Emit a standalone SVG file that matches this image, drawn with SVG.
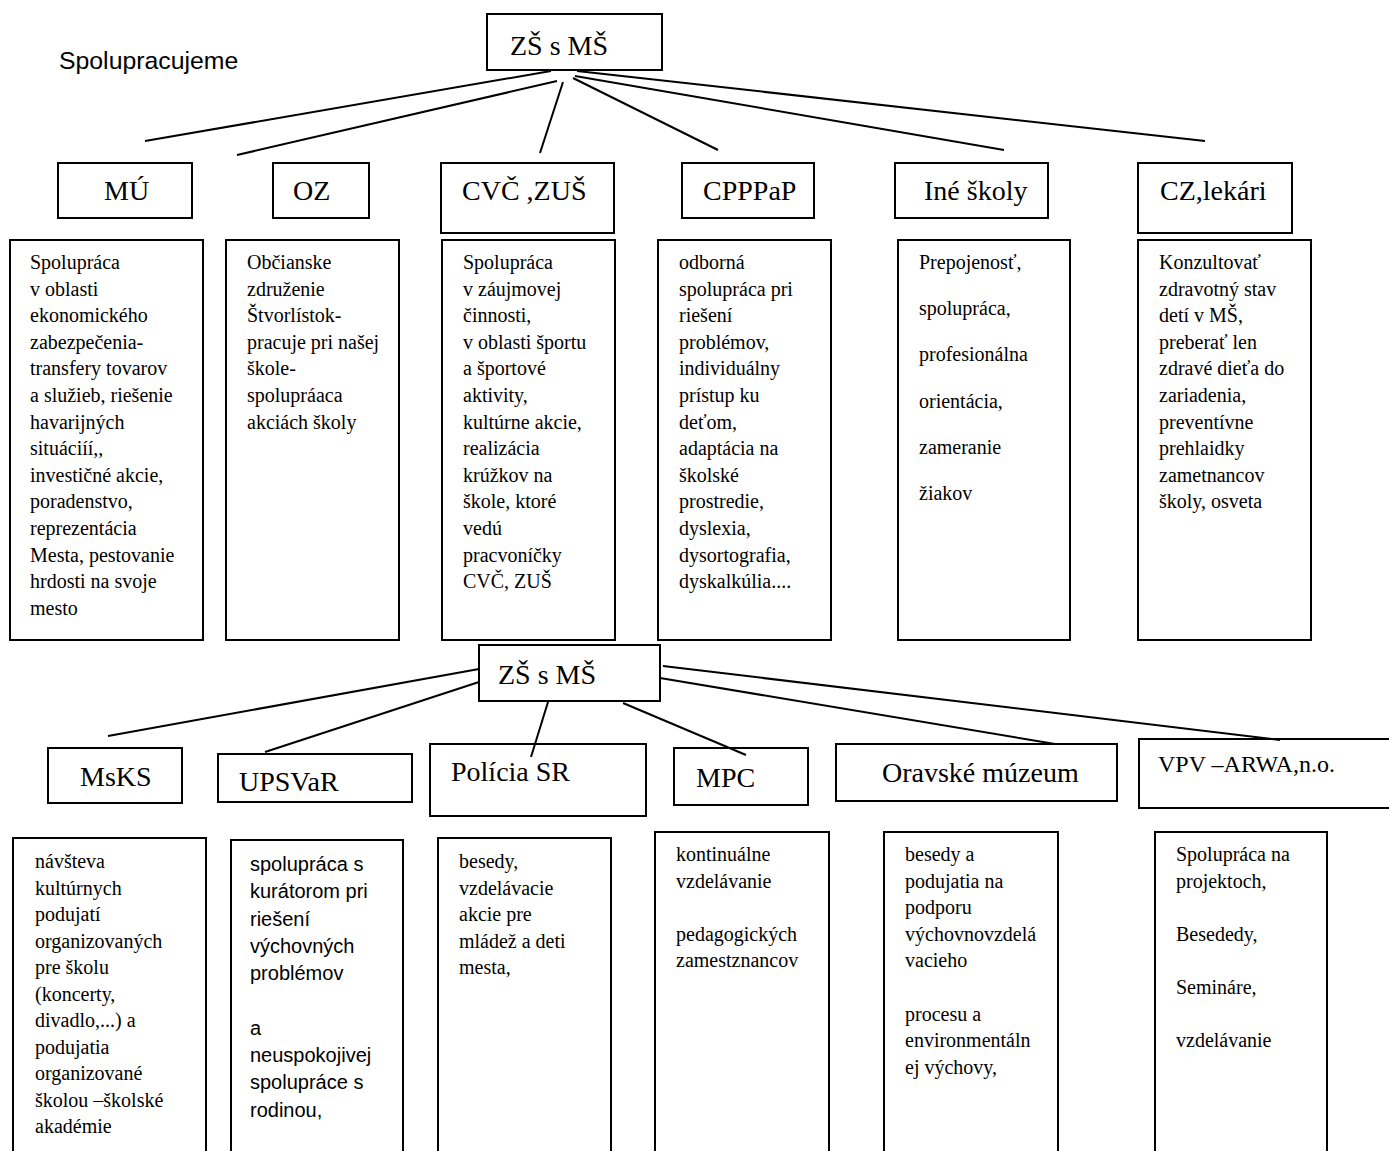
<svg xmlns="http://www.w3.org/2000/svg" width="1389" height="1151" viewBox="0 0 1389 1151">
<style>
.bx{fill:#fff;stroke:#000;stroke-width:2}
.ln{stroke:#000;stroke-width:2;fill:none}
.h{font-family:"Liberation Serif","Times New Roman",serif;font-size:28px;fill:#000}
.d{font-family:"Liberation Serif","Times New Roman",serif;font-size:20px;fill:#000}
.s{font-family:"Liberation Sans",Arial,sans-serif;font-size:20px;fill:#000}
</style>
<rect width="1389" height="1151" fill="#fff"/>
<text x="59" y="69" class="s" style="font-size:24.8px">Spolupracujeme</text>

<g id="root1"><rect class="bx" x="487" y="14" width="175" height="56"/><text class="h" x="510" y="55">ZŠ s MŠ</text></g>

<g id="mu"><rect class="bx" x="58" y="163" width="134" height="55"/><text class="h" x="104" y="200">MÚ</text></g>
<g id="oz"><rect class="bx" x="273" y="163" width="96" height="55"/><text class="h" x="293" y="200">OZ</text></g>
<g id="cvc"><rect class="bx" x="441" y="163" width="173" height="70"/><text class="h" x="462" y="200">CVČ ,ZUŠ</text></g>
<g id="cpppap"><rect class="bx" x="682" y="163" width="132" height="55"/><text class="h" x="703" y="200">CPPPaP</text></g>
<g id="ine"><rect class="bx" x="895" y="163" width="153" height="55"/><text class="h" x="924" y="200">Iné školy</text></g>
<g id="cz"><rect class="bx" x="1138" y="163" width="154" height="70"/><text class="h" x="1160" y="200">CZ,lekári</text></g>

<g id="mu-desc"><rect class="bx" x="10" y="240" width="193" height="400"/>
<text class="d" x="30" y="269"><tspan x="30">Spolupráca</tspan><tspan x="30" dy="26.6">v oblasti</tspan><tspan x="30" dy="26.6">ekonomického</tspan><tspan x="30" dy="26.6">zabezpečenia-</tspan><tspan x="30" dy="26.6">transfery tovarov</tspan><tspan x="30" dy="26.6">a služieb, riešenie</tspan><tspan x="30" dy="26.6">havarijných</tspan><tspan x="30" dy="26.6">situáciíí,,</tspan><tspan x="30" dy="26.6">investičné akcie,</tspan><tspan x="30" dy="26.6">poradenstvo,</tspan><tspan x="30" dy="26.6">reprezentácia</tspan><tspan x="30" dy="26.6">Mesta, pestovanie</tspan><tspan x="30" dy="26.6">hrdosti na svoje</tspan><tspan x="30" dy="26.6">mesto</tspan></text></g>

<g id="oz-desc"><rect class="bx" x="226" y="240" width="173" height="400"/>
<text class="d" x="247" y="269"><tspan x="247">Občianske</tspan><tspan x="247" dy="26.6">združenie</tspan><tspan x="247" dy="26.6">Štvorlístok-</tspan><tspan x="247" dy="26.6">pracuje pri našej</tspan><tspan x="247" dy="26.6">škole-</tspan><tspan x="247" dy="26.6">spolupráaca</tspan><tspan x="247" dy="26.6">akciách školy</tspan></text></g>

<g id="cvc-desc"><rect class="bx" x="442" y="240" width="173" height="400"/>
<text class="d" x="463" y="269"><tspan x="463">Spolupráca</tspan><tspan x="463" dy="26.6">v záujmovej</tspan><tspan x="463" dy="26.6">činnosti,</tspan><tspan x="463" dy="26.6">v oblasti športu</tspan><tspan x="463" dy="26.6">a športové</tspan><tspan x="463" dy="26.6">aktivity,</tspan><tspan x="463" dy="26.6">kultúrne akcie,</tspan><tspan x="463" dy="26.6">realizácia</tspan><tspan x="463" dy="26.6">krúžkov na</tspan><tspan x="463" dy="26.6">škole, ktoré</tspan><tspan x="463" dy="26.6">vedú</tspan><tspan x="463" dy="26.6">pracvoníčky</tspan><tspan x="463" dy="26.6">CVČ, ZUŠ</tspan></text></g>

<g id="cpppap-desc"><rect class="bx" x="658" y="240" width="173" height="400"/>
<text class="d" x="679" y="269"><tspan x="679">odborná</tspan><tspan x="679" dy="26.6">spolupráca pri</tspan><tspan x="679" dy="26.6">riešení</tspan><tspan x="679" dy="26.6">problémov,</tspan><tspan x="679" dy="26.6">individuálny</tspan><tspan x="679" dy="26.6">prístup ku</tspan><tspan x="679" dy="26.6">deťom,</tspan><tspan x="679" dy="26.6">adaptácia na</tspan><tspan x="679" dy="26.6">školské</tspan><tspan x="679" dy="26.6">prostredie,</tspan><tspan x="679" dy="26.6">dyslexia,</tspan><tspan x="679" dy="26.6">dysortografia,</tspan><tspan x="679" dy="26.6">dyskalkúlia....</tspan></text></g>

<g id="ine-desc"><rect class="bx" x="898" y="240" width="172" height="400"/>
<text class="d" x="919" y="269"><tspan x="919">Prepojenosť,</tspan><tspan x="919" dy="46.2">spolupráca,</tspan><tspan x="919" dy="46.2">profesionálna</tspan><tspan x="919" dy="46.2">orientácia,</tspan><tspan x="919" dy="46.2">zameranie</tspan><tspan x="919" dy="46.2">žiakov</tspan></text></g>

<g id="cz-desc"><rect class="bx" x="1138" y="240" width="173" height="400"/>
<text class="d" x="1159" y="269"><tspan x="1159">Konzultovať</tspan><tspan x="1159" dy="26.6">zdravotný stav</tspan><tspan x="1159" dy="26.6">detí v MŠ,</tspan><tspan x="1159" dy="26.6">preberať len</tspan><tspan x="1159" dy="26.6">zdravé dieťa do</tspan><tspan x="1159" dy="26.6">zariadenia,</tspan><tspan x="1159" dy="26.6">preventívne</tspan><tspan x="1159" dy="26.6">prehlaidky</tspan><tspan x="1159" dy="26.6">zametnancov</tspan><tspan x="1159" dy="26.6">školy, osveta</tspan></text></g>

<g id="root2"><rect class="bx" x="479" y="645" width="181" height="56"/><text class="h" x="498" y="684">ZŠ s MŠ</text></g>

<g id="msks"><rect class="bx" x="48" y="748" width="134" height="55"/><text class="h" x="80" y="786">MsKS</text></g>
<g id="upsvar"><rect class="bx" x="218" y="754" width="194" height="48"/><text class="h" x="239" y="791">UPSVaR</text></g>
<g id="policia"><rect class="bx" x="430" y="744" width="216" height="72"/><text class="h" x="451" y="781">Polícia SR</text></g>
<g id="mpc"><rect class="bx" x="674" y="748" width="134" height="57"/><text class="h" x="696" y="787">MPC</text></g>
<g id="oravske"><rect class="bx" x="836" y="744" width="281" height="57"/><text class="h" x="882" y="782">Oravské múzeum</text></g>
<g id="vpv"><rect class="bx" x="1139" y="739" width="260" height="69"/><text class="h" x="1158" y="772" style="font-size:24px">VPV –ARWA,n.o.</text></g>

<g id="msks-desc"><rect class="bx" x="13" y="838" width="193" height="330"/>
<text class="d" x="35" y="868"><tspan x="35">návšteva</tspan><tspan x="35" dy="26.5">kultúrnych</tspan><tspan x="35" dy="26.5">podujatí</tspan><tspan x="35" dy="26.5">organizovaných</tspan><tspan x="35" dy="26.5">pre školu</tspan><tspan x="35" dy="26.5">(koncerty,</tspan><tspan x="35" dy="26.5">divadlo,...) a</tspan><tspan x="35" dy="26.5">podujatia</tspan><tspan x="35" dy="26.5">organizované</tspan><tspan x="35" dy="26.5">školou –školské</tspan><tspan x="35" dy="26.5">akadémie</tspan></text></g>

<g id="upsvar-desc"><rect class="bx" x="231" y="840" width="172" height="330"/>
<text class="s" x="250" y="871"><tspan x="250">spolupráca s</tspan><tspan x="250" dy="27.3">kurátorom pri</tspan><tspan x="250" dy="27.3">riešení</tspan><tspan x="250" dy="27.3">výchovných</tspan><tspan x="250" dy="27.3">problémov</tspan><tspan x="250" dy="54.6">a</tspan><tspan x="250" dy="27.3">neuspokojivej</tspan><tspan x="250" dy="27.3">spolupráce s</tspan><tspan x="250" dy="27.3">rodinou,</tspan></text></g>

<g id="policia-desc"><rect class="bx" x="438" y="838" width="173" height="330"/>
<text class="d" x="459" y="868"><tspan x="459">besedy,</tspan><tspan x="459" dy="26.5">vzdelávacie</tspan><tspan x="459" dy="26.5">akcie pre</tspan><tspan x="459" dy="26.5">mládež a deti</tspan><tspan x="459" dy="26.5">mesta,</tspan></text></g>

<g id="mpc-desc"><rect class="bx" x="655" y="832" width="174" height="330"/>
<text class="d" x="676" y="861"><tspan x="676">kontinuálne</tspan><tspan x="676" dy="26.6">vzdelávanie</tspan><tspan x="676" dy="53.2">pedagogických</tspan><tspan x="676" dy="26.6">zamestznancov</tspan></text></g>

<g id="oravske-desc"><rect class="bx" x="884" y="832" width="174" height="330"/>
<text class="d" x="905" y="861"><tspan x="905">besedy a</tspan><tspan x="905" dy="26.6">podujatia na</tspan><tspan x="905" dy="26.6">podporu</tspan><tspan x="905" dy="26.6">výchovnovzdelá</tspan><tspan x="905" dy="26.6">vacieho</tspan><tspan x="905" dy="53.2">procesu a</tspan><tspan x="905" dy="26.6">environmentáln</tspan><tspan x="905" dy="26.6">ej výchovy,</tspan></text></g>

<g id="vpv-desc"><rect class="bx" x="1155" y="832" width="172" height="330"/>
<text class="d" x="1176" y="861"><tspan x="1176">Spolupráca na</tspan><tspan x="1176" dy="26.6">projektoch,</tspan><tspan x="1176" dy="53.2">Besededy,</tspan><tspan x="1176" dy="53.2">Semináre,</tspan><tspan x="1176" dy="53.2">vzdelávanie</tspan></text></g>

<g id="connectors">
<line class="ln" x1="551" y1="71" x2="145" y2="141"/>
<line class="ln" x1="557" y1="81" x2="237" y2="155"/>
<line class="ln" x1="563" y1="82" x2="540" y2="153"/>
<line class="ln" x1="573" y1="78" x2="718" y2="150"/>
<line class="ln" x1="575" y1="76" x2="1004" y2="150"/>
<line class="ln" x1="577" y1="71" x2="1205" y2="141"/>
<line class="ln" x1="479" y1="669" x2="108" y2="736"/>
<line class="ln" x1="479" y1="682" x2="265" y2="752"/>
<line class="ln" x1="548" y1="702" x2="531" y2="757"/>
<line class="ln" x1="623" y1="703" x2="746" y2="755"/>
<line class="ln" x1="660" y1="678" x2="1055" y2="744"/>
<line class="ln" x1="663" y1="666" x2="1280" y2="740"/>
</g>
</svg>
